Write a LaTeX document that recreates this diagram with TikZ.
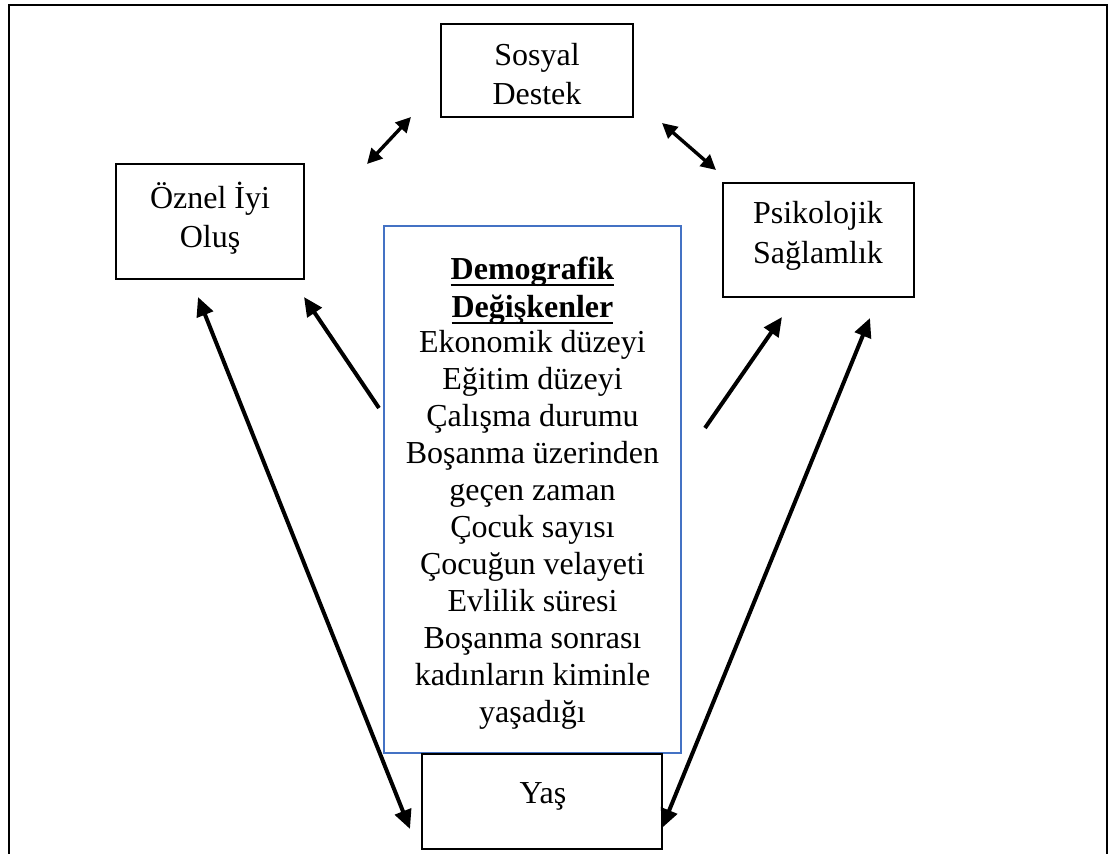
\documentclass[tikz,border=0pt]{standalone}
\usepackage{fontspec}
\setmainfont{Liberation Serif}
\usetikzlibrary{arrows.meta}
\definecolor{boxblue}{HTML}{4472C4}
\newcommand\myul[1]{\setbox0\hbox{#1}\rlap{\rule[-7pt]{\wd0}{1.8pt}}\box0}
\tikzset{
  frame/.style={line width=2pt},
  boxnode/.style={draw, line width=2.2pt, inner sep=0pt},
  bluebox/.style={draw=boxblue, line width=1.6pt, inner sep=0pt},
  txt/.style={anchor=base, inner sep=0pt, font=\fontsize{32}{37}\selectfont},
  bigtip/.tip={Triangle[length=19pt 0, width=17pt 0]},
  smalltip/.tip={Triangle[length=15pt 0, width=15pt 0]},
  bigarrow/.style={line width=4pt, -bigtip},
  bigdbl/.style={line width=4pt, bigtip-bigtip},
  smalldbl/.style={line width=3.4pt, smalltip-smalltip}
}
\begin{document}
\begin{tikzpicture}[x=1pt,y=-1pt]
\useasboundingbox (0,0) rectangle (1109,854);
% outer frame (open at the bottom)
\draw[frame] (8.5,854) -- (8.5,5) -- (1107,5) -- (1107,854);
% boxes
\node[boxnode, minimum width=192pt, minimum height=93pt] (sd) at (537,70.5) {};
\node[boxnode, minimum width=188pt, minimum height=115pt] (oz) at (210,221.5) {};
\node[boxnode, minimum width=191pt, minimum height=114pt] (ps) at (818.5,240) {};
\node[bluebox, minimum width=297pt, minimum height=527pt] (dem) at (532.5,489.5) {};
\node[boxnode, minimum width=240pt, minimum height=95pt] (yas) at (542,801.5) {};
% texts
\node[txt] (sd1) at (537,65) {Sosyal};
\node[txt] (sd2) at (537,104) {Destek};
\node[txt] (oz1) at (210,208) {Öznel İyi};
\node[txt] (oz2) at (210,247) {Oluş};
\node[txt] (ps1) at (818,223) {Psikolojik};
\node[txt] (ps2) at (818,263) {Sağlamlık};
\node[txt] (yas1) at (543,803) {Yaş};
\node[txt] (dh1) at (532.5,279) {\bfseries\myul{Demografik}};
\node[txt] (dh2) at (532.5,317) {\bfseries\myul{Değişkenler}};
\foreach \t [count=\i from 0] in {Ekonomik düzeyi,Eğitim düzeyi,Çalışma durumu,Boşanma üzerinden,geçen zaman,Çocuk sayısı,Çocuğun velayeti,Evlilik süresi,Boşanma sonrası,kadınların kiminle,yaşadığı}
  \node[txt] (dl\i) at (532.5,352+37*\i) {\t};
% arrow end points
\coordinate (a1s) at (411,117);
\coordinate (a1e) at (367,164);
\coordinate (a2s) at (662,123);
\coordinate (a2e) at (716,170);
\coordinate (a3s) at (379,408);
\coordinate (a3e) at (304,297);
\coordinate (a4s) at (198,297);
\coordinate (a4e) at (410,829);
\coordinate (a5s) at (705,428);
\coordinate (a5e) at (782,317);
\coordinate (a6s) at (870,318);
\coordinate (a6e) at (662,828);
% arrows
\draw[smalldbl] (a1s) -- (a1e);
\draw[smalldbl] (a2s) -- (a2e);
\draw[bigarrow] (a3s) -- (a3e);
\draw[bigdbl] (a4s) -- (a4e);
\draw[bigarrow] (a5s) -- (a5e);
\draw[bigdbl] (a6s) -- (a6e);
\end{tikzpicture}
\end{document}
